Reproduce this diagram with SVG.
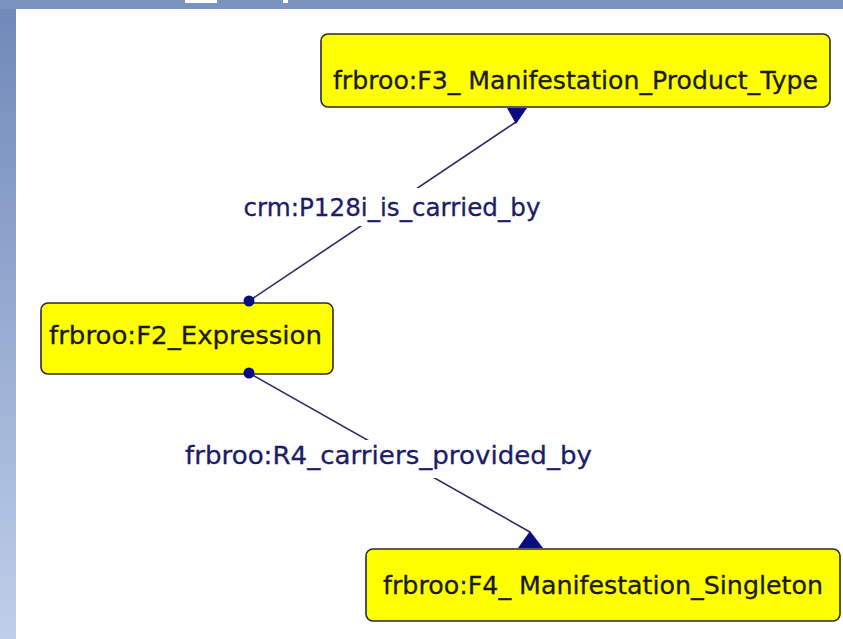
<svg xmlns="http://www.w3.org/2000/svg" width="843" height="639" viewBox="0 0 843 639">
  <defs>
    <linearGradient id="sideGrad" x1="0" y1="0" x2="0" y2="1">
      <stop offset="0" stop-color="#6f88b8"/>
      <stop offset="1" stop-color="#bfcfea"/>
    </linearGradient>
    <style>
      .node rect { fill: #ffff00; stroke: #2b2b2b; stroke-width: 1.6; }
      .node text { font-family: "DejaVu Sans", Verdana, sans-serif; font-size: 25px; fill: #1a1a1a; stroke: #1a1a1a; stroke-width: 0.3; }
      .edge line { stroke: #2a2a6a; stroke-width: 1.6; }
      .head { fill: #0c0c82; }
      .label { font-family: "DejaVu Sans", Verdana, sans-serif; font-size: 25px; fill: #1c1c68; stroke: #1c1c68; stroke-width: 0.3; }
      .labelbg { fill: #ffffff; }
    </style>
  </defs>

  <!-- background -->
  <rect x="0" y="0" width="843" height="639" fill="#ffffff"/>
  <rect x="0" y="0" width="16" height="639" fill="url(#sideGrad)"/>
  <rect x="0" y="0" width="843" height="9" fill="#7a93bf"/>
  <rect x="185" y="0" width="32" height="3" fill="#ffffff"/>
  <rect x="283" y="0" width="5" height="3" fill="#ffffff"/>

  <!-- connectors -->
  <g id="connectors" class="edge">
    <line x1="249" y1="301" x2="516" y2="122"/>
    <polygon class="head" points="507,108 527,108 516,124"/>
    <rect class="labelbg" x="238" y="188" width="308" height="38"/>
    <text class="label" x="392" y="216" text-anchor="middle" textLength="297" lengthAdjust="spacingAndGlyphs">crm:P128i_is_carried_by</text>

    <line x1="249" y1="373" x2="530" y2="532"/>
    <polygon class="head" points="530,531 518,548 543,548"/>
    <rect class="labelbg" x="182" y="440" width="414" height="38"/>
    <text class="label" x="388.5" y="464" text-anchor="middle" textLength="407" lengthAdjust="spacingAndGlyphs">frbroo:R4_carriers_provided_by</text>
  </g>

  <!-- nodes -->
  <g id="node-f3" class="node">
    <rect x="321" y="34" width="509" height="73" rx="7"/>
    <text x="575.5" y="89" text-anchor="middle" textLength="485" lengthAdjust="spacingAndGlyphs">frbroo:F3_ Manifestation_Product_Type</text>
  </g>
  <g id="node-f2" class="node">
    <rect x="41" y="303" width="292" height="71" rx="7"/>
    <text x="185.5" y="344" text-anchor="middle" textLength="273" lengthAdjust="spacingAndGlyphs">frbroo:F2_Expression</text>
  </g>
  <g id="node-f4" class="node">
    <rect x="366" y="549" width="474" height="72" rx="7"/>
    <text x="603" y="594" text-anchor="middle" textLength="440" lengthAdjust="spacingAndGlyphs">frbroo:F4_ Manifestation_Singleton</text>
  </g>

  <!-- connector end dots drawn over node borders -->
  <g id="dots">
    <circle class="head" cx="249" cy="301" r="5.5"/>
    <circle class="head" cx="249" cy="373" r="5.5"/>
  </g>
</svg>
